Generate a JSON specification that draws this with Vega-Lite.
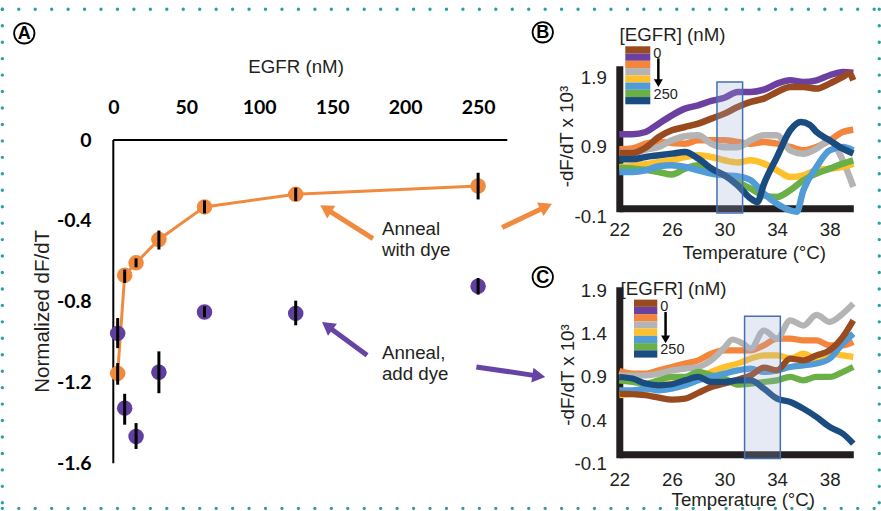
{
"$schema": "https://vega.github.io/schema/vega-lite/v6.json",
"background": "white",
"padding": {"left": 0.3, "top": 7.3, "right": 0, "bottom": 0},
"autosize": {"type": "pad"},
"config": {"view": {"stroke": null}, "font": "Liberation Sans", "axis": {"grid": false}},
"spacing": 112,
"bounds": "flush",
"resolve": {"scale": {"color": "independent", "stroke": "independent", "fill": "independent"}},
"datasets": {
"frame": [{"x":-76.06,"y":0.647,"x2":524.9,"y2":0.647},{"x":-76.06,"y":-1.823,"x2":524.9,"y2":-1.823},{"x":-76.06,"y":0.647,"x2":-76.06,"y2":-1.823},{"x":524.9,"y":0.647,"x2":524.9,"y2":-1.823}],
"pts": [
{"s":"dye","e":3.0,"m":-1.155,"lo":-1.211,"hi":-1.104},
{"s":"dye","e":7.8,"m":-0.669,"lo":-0.707,"hi":-0.641},
{"s":"dye","e":15.6,"m":-0.608,"lo":-0.63,"hi":-0.586},
{"s":"dye","e":31.25,"m":-0.492,"lo":-0.542,"hi":-0.448},
{"s":"dye","e":62.5,"m":-0.331,"lo":-0.363,"hi":-0.299},
{"s":"dye","e":125,"m":-0.269,"lo":-0.302,"hi":-0.236},
{"s":"dye","e":250,"m":-0.228,"lo":-0.294,"hi":-0.162},
{"s":"add","e":3.0,"m":-0.957,"lo":-1.03,"hi":-0.881},
{"s":"add","e":7.8,"m":-1.327,"lo":-1.409,"hi":-1.256},
{"s":"add","e":15.6,"m":-1.467,"lo":-1.529,"hi":-1.401},
{"s":"add","e":31.25,"m":-1.149,"lo":-1.253,"hi":-1.046},
{"s":"add","e":62.5,"m":-0.851,"lo":-0.877,"hi":-0.823},
{"s":"add","e":125,"m":-0.858,"lo":-0.917,"hi":-0.795},
{"s":"add","e":250,"m":-0.724,"lo":-0.765,"hi":-0.683}],
"arrows": [
{"g":"o","x":178.0,"y":-0.488,"x2":147.7,"y2":-0.350,"hx":145.6,"hy":-0.340,"a":302.3},
{"g":"o","x":266.4,"y":-0.433,"x2":294.5,"y2":-0.336,"hx":296.6,"hy":-0.329,"a":64.4},
{"g":"p","x":173.9,"y":-1.065,"x2":148.5,"y2":-0.930,"hx":146.6,"hy":-0.920,"a":306.5},
{"g":"p","x":248.8,"y":-1.123,"x2":289.3,"y2":-1.166,"hx":291.6,"hy":-1.168,"a":98.2}],
"notes": [{"x":184.1,"y":-0.472,"t":"Anneal\nwith dye"},{"x":184.1,"y":-1.082,"t":"Anneal,\nadd dye"}],
"panels": [{"x":-61.0,"y":0.528,"t":"A"},{"x":294.3,"y":0.533,"t":"B"},{"x":294.3,"y":-0.678,"t":"C"}],
"Bbox": [{"t1":29.43,"t2":31.38,"v1":1.717,"v2":-0.168}],
"Cbox": [{"t1":31.53,"t2":34.25,"v1":1.583,"v2":-0.152}],
"legB": [{"c":"0","y1":2.2309,"y2":2.1266},{"c":"3.9","y1":2.1266,"y2":2.0223},{"c":"7.8","y1":2.0223,"y2":1.918},{"c":"15.6","y1":1.918,"y2":1.8137},{"c":"31.3","y1":1.8137,"y2":1.7094},{"c":"62.5","y1":1.7094,"y2":1.605},{"c":"125","y1":1.605,"y2":1.5007},{"c":"250","y1":1.5007,"y2":1.3964}],
"legC": [{"c":"0","y1":1.7866,"y2":1.6982},{"c":"3.9","y1":1.6982,"y2":1.6098},{"c":"7.8","y1":1.6098,"y2":1.5213},{"c":"15.6","y1":1.5213,"y2":1.4329},{"c":"31.3","y1":1.4329,"y2":1.3445},{"c":"62.5","y1":1.3445,"y2":1.2561},{"c":"125","y1":1.2561,"y2":1.1677},{"c":"250","y1":1.1677,"y2":1.0793}],
"legTB": [{"x":22.02,"y":2.305,"t":"[EGFR] (nM)","k":"title"},{"x":24.586,"y":2.066,"t":"0","k":"lab"},{"x":24.609,"y":1.468,"t":"250","k":"lab"}],
"legTC": [{"x":22.099,"y":1.845,"t":"[EGFR] (nM)","k":"title"},{"x":25.12,"y":1.648,"t":"0","k":"lab"},{"x":25.12,"y":1.12,"t":"250","k":"lab"}],
"B": [
{"c":"3.9","t":22,"v":0.965},{"c":"3.9","t":23,"v":0.965},{"c":"3.9","t":24,"v":0.998},{"c":"3.9","t":25,"v":1.118},{"c":"3.9","t":26,"v":1.238},{"c":"3.9","t":27,"v":1.334},{"c":"3.9","t":28,"v":1.382},{"c":"3.9","t":29,"v":1.444},{"c":"3.9","t":30,"v":1.49},{"c":"3.9","t":31,"v":1.574},{"c":"3.9","t":32,"v":1.574},{"c":"3.9","t":33,"v":1.607},{"c":"3.9","t":34,"v":1.694},{"c":"3.9","t":35,"v":1.742},{"c":"3.9","t":36,"v":1.718},{"c":"3.9","t":37,"v":1.742},{"c":"3.9","t":38,"v":1.814},{"c":"3.9","t":39,"v":1.862},{"c":"3.9","t":39.8,"v":1.85},
{"c":"7.8","t":22,"v":0.75},{"c":"7.8","t":23,"v":0.76},{"c":"7.8","t":24,"v":0.83},{"c":"7.8","t":25,"v":0.854},{"c":"7.8","t":26,"v":0.84},{"c":"7.8","t":27,"v":0.83},{"c":"7.8","t":28,"v":0.878},{"c":"7.8","t":29,"v":0.878},{"c":"7.8","t":30,"v":0.878},{"c":"7.8","t":31,"v":0.854},{"c":"7.8","t":32,"v":0.83},{"c":"7.8","t":33,"v":0.854},{"c":"7.8","t":34,"v":0.83},{"c":"7.8","t":35,"v":0.782},{"c":"7.8","t":36,"v":0.734},{"c":"7.8","t":37,"v":0.782},{"c":"7.8","t":38,"v":0.878},{"c":"7.8","t":39,"v":0.998},{"c":"7.8","t":39.8,"v":1.03},
{"c":"15.6","t":22,"v":0.70},{"c":"15.6","t":23,"v":0.70},{"c":"15.6","t":24,"v":0.744},{"c":"15.6","t":25,"v":0.782},{"c":"15.6","t":26,"v":0.878},{"c":"15.6","t":27,"v":0.936},{"c":"15.6","t":28,"v":0.95},{"c":"15.6","t":29,"v":0.83},{"c":"15.6","t":30,"v":0.78},{"c":"15.6","t":31,"v":0.78},{"c":"15.6","t":32,"v":0.878},{"c":"15.6","t":33,"v":0.95},{"c":"15.6","t":34,"v":0.95},{"c":"15.6","t":35,"v":0.734},{"c":"15.6","t":36,"v":0.686},{"c":"15.6","t":37,"v":0.758},{"c":"15.6","t":38,"v":0.878},{"c":"15.6","t":39,"v":0.59},{"c":"15.6","t":39.8,"v":0.207},
{"c":"31.3","t":22,"v":0.495},{"c":"31.3","t":23,"v":0.51},{"c":"31.3","t":24,"v":0.533},{"c":"31.3","t":25,"v":0.567},{"c":"31.3","t":26,"v":0.591},{"c":"31.3","t":27,"v":0.639},{"c":"31.3","t":28,"v":0.663},{"c":"31.3","t":29,"v":0.639},{"c":"31.3","t":30,"v":0.591},{"c":"31.3","t":31,"v":0.56},{"c":"31.3","t":32,"v":0.591},{"c":"31.3","t":33,"v":0.543},{"c":"31.3","t":34,"v":0.447},{"c":"31.3","t":35,"v":0.351},{"c":"31.3","t":36,"v":0.375},{"c":"31.3","t":37,"v":0.447},{"c":"31.3","t":38,"v":0.471},{"c":"31.3","t":39,"v":0.495},{"c":"31.3","t":39.8,"v":0.543},
{"c":"125","t":22,"v":0.485},{"c":"125","t":23,"v":0.471},{"c":"125","t":24,"v":0.456},{"c":"125","t":25,"v":0.423},{"c":"125","t":26,"v":0.385},{"c":"125","t":27,"v":0.471},{"c":"125","t":28,"v":0.519},{"c":"125","t":29,"v":0.447},{"c":"125","t":30,"v":0.375},{"c":"125","t":31,"v":0.279},{"c":"125","t":32,"v":0.183},{"c":"125","t":33,"v":0.087},{"c":"125","t":34,"v":0.063},{"c":"125","t":35,"v":0.159},{"c":"125","t":36,"v":0.303},{"c":"125","t":37,"v":0.399},{"c":"125","t":38,"v":0.471},{"c":"125","t":39,"v":0.543},{"c":"125","t":39.8,"v":0.591},
{"c":"62.5","t":22,"v":0.423},{"c":"62.5","t":23,"v":0.423},{"c":"62.5","t":24,"v":0.447},{"c":"62.5","t":25,"v":0.504},{"c":"62.5","t":26,"v":0.519},{"c":"62.5","t":27,"v":0.495},{"c":"62.5","t":28,"v":0.447},{"c":"62.5","t":29,"v":0.399},{"c":"62.5","t":30,"v":0.375},{"c":"62.5","t":31,"v":0.36},{"c":"62.5","t":32,"v":0.303},{"c":"62.5","t":33,"v":0.111},{"c":"62.5","t":34,"v":-0.033},{"c":"62.5","t":35,"v":-0.129},{"c":"62.5","t":35.5,"v":-0.15},{"c":"62.5","t":36,"v":0.159},{"c":"62.5","t":37,"v":0.495},{"c":"62.5","t":38,"v":0.734},{"c":"62.5","t":39,"v":0.782},{"c":"62.5","t":39.8,"v":0.734},
{"c":"0","t":22,"v":0.696},{"c":"0","t":23,"v":0.696},{"c":"0","t":24,"v":0.773},{"c":"0","t":25,"v":0.926},{"c":"0","t":26,"v":1.022},{"c":"0","t":27,"v":1.07},{"c":"0","t":28,"v":1.118},{"c":"0","t":29,"v":1.19},{"c":"0","t":30,"v":1.262},{"c":"0","t":31,"v":1.358},{"c":"0","t":32,"v":1.43},{"c":"0","t":33,"v":1.478},{"c":"0","t":34,"v":1.574},{"c":"0","t":35,"v":1.646},{"c":"0","t":36,"v":1.646},{"c":"0","t":37,"v":1.622},{"c":"0","t":38,"v":1.694},{"c":"0","t":39,"v":1.79},{"c":"0","t":39.5,"v":1.838},{"c":"0","t":39.8,"v":1.742},
{"c":"250","t":22,"v":0.605},{"c":"250","t":23,"v":0.605},{"c":"250","t":24,"v":0.639},{"c":"250","t":25,"v":0.663},{"c":"250","t":26,"v":0.687},{"c":"250","t":27,"v":0.711},{"c":"250","t":28,"v":0.615},{"c":"250","t":29,"v":0.471},{"c":"250","t":30,"v":0.375},{"c":"250","t":31,"v":0.231},{"c":"250","t":32,"v":0.039},{"c":"250","t":32.5,"v":-0.01},{"c":"250","t":33,"v":0.25},{"c":"250","t":34,"v":0.64},{"c":"250","t":35,"v":1.022},{"c":"250","t":35.8,"v":1.142},{"c":"250","t":36.5,"v":1.1},{"c":"250","t":37,"v":0.998},{"c":"250","t":38,"v":0.878},{"c":"250","t":39,"v":0.758},{"c":"250","t":39.8,"v":0.687}],
"C": [
{"c":"7.8","t":22,"v":0.916},{"c":"7.8","t":23,"v":0.884},{"c":"7.8","t":24,"v":0.884},{"c":"7.8","t":25,"v":0.924},{"c":"7.8","t":26,"v":0.965},{"c":"7.8","t":27,"v":1.006},{"c":"7.8","t":28,"v":1.046},{"c":"7.8","t":29,"v":1.128},{"c":"7.8","t":30,"v":1.168},{"c":"7.8","t":31,"v":1.168},{"c":"7.8","t":32,"v":1.168},{"c":"7.8","t":33,"v":1.229},{"c":"7.8","t":34,"v":1.311},{"c":"7.8","t":35,"v":1.311},{"c":"7.8","t":36,"v":1.29},{"c":"7.8","t":37,"v":1.29},{"c":"7.8","t":38,"v":1.229},{"c":"7.8","t":39,"v":1.229},{"c":"7.8","t":39.8,"v":1.27},
{"c":"15.6","t":22,"v":0.86},{"c":"15.6","t":23,"v":0.86},{"c":"15.6","t":24,"v":0.863},{"c":"15.6","t":25,"v":0.884},{"c":"15.6","t":26,"v":0.924},{"c":"15.6","t":27,"v":0.945},{"c":"15.6","t":28,"v":0.965},{"c":"15.6","t":29,"v":1.046},{"c":"15.6","t":30,"v":1.2},{"c":"15.6","t":30.6,"v":1.3},{"c":"15.6","t":31.4,"v":1.25},{"c":"15.6","t":32,"v":1.19},{"c":"15.6","t":33,"v":1.41},{"c":"15.6","t":34,"v":1.31},{"c":"15.6","t":35,"v":1.534},{"c":"15.6","t":36,"v":1.47},{"c":"15.6","t":37,"v":1.6},{"c":"15.6","t":38,"v":1.514},{"c":"15.6","t":39,"v":1.615},{"c":"15.6","t":39.8,"v":1.737},
{"c":"31.3","t":22,"v":0.62},{"c":"31.3","t":23,"v":0.64},{"c":"31.3","t":24,"v":0.68},{"c":"31.3","t":25,"v":0.741},{"c":"31.3","t":26,"v":0.762},{"c":"31.3","t":27,"v":0.802},{"c":"31.3","t":28,"v":0.843},{"c":"31.3","t":29,"v":0.904},{"c":"31.3","t":30,"v":0.965},{"c":"31.3","t":31,"v":1.006},{"c":"31.3","t":32,"v":1.067},{"c":"31.3","t":33,"v":1.107},{"c":"31.3","t":34,"v":1.107},{"c":"31.3","t":35,"v":1.067},{"c":"31.3","t":36,"v":1.128},{"c":"31.3","t":37,"v":1.067},{"c":"31.3","t":38,"v":1.128},{"c":"31.3","t":39,"v":1.107},{"c":"31.3","t":39.8,"v":1.087},
{"c":"125","t":22,"v":0.802},{"c":"125","t":23,"v":0.782},{"c":"125","t":24,"v":0.762},{"c":"125","t":25,"v":0.802},{"c":"125","t":26,"v":0.843},{"c":"125","t":27,"v":0.843},{"c":"125","t":28,"v":0.904},{"c":"125","t":29,"v":0.863},{"c":"125","t":30,"v":0.823},{"c":"125","t":31,"v":0.75},{"c":"125","t":32,"v":0.762},{"c":"125","t":33,"v":0.782},{"c":"125","t":34,"v":0.802},{"c":"125","t":35,"v":0.843},{"c":"125","t":36,"v":0.802},{"c":"125","t":37,"v":0.843},{"c":"125","t":38,"v":0.843},{"c":"125","t":39,"v":0.904},{"c":"125","t":39.8,"v":0.965},
{"c":"62.5","t":22,"v":0.68},{"c":"62.5","t":23,"v":0.68},{"c":"62.5","t":24,"v":0.701},{"c":"62.5","t":25,"v":0.68},{"c":"62.5","t":26,"v":0.701},{"c":"62.5","t":27,"v":0.741},{"c":"62.5","t":28,"v":0.802},{"c":"62.5","t":29,"v":0.843},{"c":"62.5","t":30,"v":0.884},{"c":"62.5","t":31,"v":0.924},{"c":"62.5","t":32,"v":0.945},{"c":"62.5","t":33,"v":0.904},{"c":"62.5","t":34,"v":0.924},{"c":"62.5","t":35,"v":0.965},{"c":"62.5","t":36,"v":0.985},{"c":"62.5","t":37,"v":1.006},{"c":"62.5","t":38,"v":1.067},{"c":"62.5","t":39,"v":1.25},{"c":"62.5","t":39.8,"v":1.372},
{"c":"0","t":22,"v":0.64},{"c":"0","t":23,"v":0.632},{"c":"0","t":24,"v":0.62},{"c":"0","t":25,"v":0.591},{"c":"0","t":26,"v":0.567},{"c":"0","t":27,"v":0.579},{"c":"0","t":28,"v":0.648},{"c":"0","t":29,"v":0.721},{"c":"0","t":30,"v":0.762},{"c":"0","t":31,"v":0.81},{"c":"0","t":32,"v":0.863},{"c":"0","t":33,"v":0.957},{"c":"0","t":34,"v":0.924},{"c":"0","t":35,"v":1.067},{"c":"0","t":36,"v":1.046},{"c":"0","t":37,"v":1.107},{"c":"0","t":38,"v":1.168},{"c":"0","t":39,"v":1.331},{"c":"0","t":39.8,"v":1.534},
{"c":"250","t":22,"v":0.843},{"c":"250","t":23,"v":0.823},{"c":"250","t":24,"v":0.762},{"c":"250","t":25,"v":0.741},{"c":"250","t":26,"v":0.754},{"c":"250","t":27,"v":0.802},{"c":"250","t":28,"v":0.843},{"c":"250","t":29,"v":0.782},{"c":"250","t":30,"v":0.782},{"c":"250","t":31,"v":0.802},{"c":"250","t":32,"v":0.802},{"c":"250","t":33,"v":0.701},{"c":"250","t":34,"v":0.579},{"c":"250","t":35,"v":0.538},{"c":"250","t":36,"v":0.457},{"c":"250","t":37,"v":0.355},{"c":"250","t":38,"v":0.233},{"c":"250","t":39,"v":0.152},{"c":"250","t":39.8,"v":0.03}]
},
"hconcat": [
{
"width": 394, "height": 394,
"layer": [
{"data": {"name": "frame"}, "mark": {"type": "rule", "color": "#2e9fa1", "strokeWidth": 3.4, "strokeDash": [0, 16.45], "strokeCap": "round"},
 "encoding": {"x": {"field": "x", "type": "quantitative", "scale": {"domain": [0, 270], "nice": false, "zero": false}}, "y": {"field": "y", "type": "quantitative", "scale": {"domain": [-1.6, 0.35], "nice": false, "zero": false}}, "x2": {"field": "x2"}, "y2": {"field": "y2"}}},
{"data": {"values": [{}]}, "mark": {"type": "rule", "color": "#000000", "strokeWidth": 2},
 "encoding": {
  "x": {"datum": 0, "type": "quantitative", "scale": {"domain": [0, 270], "nice": false, "zero": false},
   "axis": {"orient": "top", "offset": -70.5, "values": [0, 50, 100, 150, 200, 250], "labelFont": "Lato", "labelFontWeight": "bold", "labelFontSize": 19.5, "labelColor": "#000000", "labelBaseline": "alphabetic", "labelPadding": 26, "labelFlush": false, "labelOverlap": false, "ticks": false, "tickSize": 0, "domain": false, "title": "EGFR (nM)", "titleFontSize": 18.7, "titleFontWeight": "normal", "titleColor": "#231f20", "titleX": 182.3, "titleY": -67.5, "titleAlign": "center", "titleBaseline": "alphabetic"}},
  "y": {"datum": 0, "type": "quantitative", "scale": {"domain": [-1.6, 0.35], "nice": false, "zero": false},
   "axis": {"orient": "left", "values": [0, -0.4, -0.8, -1.2, -1.6], "labelExpr": "datum.value == 0 ? '0' : '-' + format(abs(datum.value), '.1f')", "labelFont": "Lato", "labelFontWeight": "bold", "labelFontSize": 19.5, "labelColor": "#000000", "labelPadding": 22.3, "labelFlush": false, "labelOverlap": false, "ticks": false, "tickSize": 0, "domain": false, "title": "Normalized dF/dT", "titleFontSize": 20.5, "titleFontWeight": "normal", "titleColor": "#231f20", "titleAngle": 270, "titleX": -65, "titleY": 241.5, "titleAlign": "center", "titleBaseline": "alphabetic"}},
  "y2": {"datum": -1.6}}},
{"data": {"values": [{}]}, "mark": {"type": "rule", "color": "#000000", "strokeWidth": 2},
 "encoding": {"x": {"datum": 0, "type": "quantitative", "scale": {"domain": [0, 270], "nice": false, "zero": false}}, "x2": {"datum": 270}, "y": {"datum": 0, "type": "quantitative", "scale": {"domain": [-1.6, 0.35], "nice": false, "zero": false}}}},
{"data": {"name": "pts"}, "transform": [{"filter": "datum.s == 'dye'"}], "mark": {"type": "line", "color": "#f08a3e", "strokeWidth": 3},
 "encoding": {"x": {"field": "e", "type": "quantitative", "scale": {"domain": [0, 270], "nice": false, "zero": false}}, "y": {"field": "m", "type": "quantitative", "scale": {"domain": [-1.6, 0.35], "nice": false, "zero": false}}}},
{"data": {"name": "pts"}, "transform": [{"filter": "datum.s == 'dye'"}], "mark": {"type": "circle", "color": "#f08a3e", "opacity": 1, "size": 240},
 "encoding": {"x": {"field": "e", "type": "quantitative", "scale": {"domain": [0, 270], "nice": false, "zero": false}}, "y": {"field": "m", "type": "quantitative", "scale": {"domain": [-1.6, 0.35], "nice": false, "zero": false}}}},
{"data": {"name": "pts"}, "transform": [{"filter": "datum.s == 'add'"}], "mark": {"type": "circle", "color": "#603f9e", "opacity": 1, "size": 240},
 "encoding": {"x": {"field": "e", "type": "quantitative", "scale": {"domain": [0, 270], "nice": false, "zero": false}}, "y": {"field": "m", "type": "quantitative", "scale": {"domain": [-1.6, 0.35], "nice": false, "zero": false}}}},
{"data": {"name": "pts"}, "mark": {"type": "rule", "color": "#000000", "strokeWidth": 3},
 "encoding": {"x": {"field": "e", "type": "quantitative", "scale": {"domain": [0, 270], "nice": false, "zero": false}}, "y": {"field": "lo", "type": "quantitative", "scale": {"domain": [-1.6, 0.35], "nice": false, "zero": false}}, "y2": {"field": "hi"}}},
{"data": {"name": "arrows"}, "mark": {"type": "rule", "strokeWidth": 5},
 "encoding": {"x": {"field": "x", "type": "quantitative", "scale": {"domain": [0, 270], "nice": false, "zero": false}}, "y": {"field": "y", "type": "quantitative", "scale": {"domain": [-1.6, 0.35], "nice": false, "zero": false}}, "x2": {"field": "x2"}, "y2": {"field": "y2"},
  "stroke": {"field": "g", "type": "nominal", "scale": {"domain": ["o", "p"], "range": ["#f08a3e", "#6643a5"]}, "legend": null}}},
{"data": {"name": "arrows"}, "mark": {"type": "point", "shape": "triangle-up", "filled": true, "opacity": 1, "size": 225},
 "encoding": {"x": {"field": "hx", "type": "quantitative", "scale": {"domain": [0, 270], "nice": false, "zero": false}}, "y": {"field": "hy", "type": "quantitative", "scale": {"domain": [-1.6, 0.35], "nice": false, "zero": false}},
  "angle": {"field": "a", "type": "quantitative", "scale": null},
  "fill": {"field": "g", "type": "nominal", "scale": {"domain": ["o", "p"], "range": ["#f08a3e", "#6643a5"]}, "legend": null}}},
{"data": {"name": "notes"}, "mark": {"type": "text", "align": "left", "baseline": "alphabetic", "fontSize": 18.7, "lineHeight": 21, "lineBreak": "\n", "color": "#231f20"},
 "encoding": {"x": {"field": "x", "type": "quantitative", "scale": {"domain": [0, 270], "nice": false, "zero": false}}, "y": {"field": "y", "type": "quantitative", "scale": {"domain": [-1.6, 0.35], "nice": false, "zero": false}}, "text": {"field": "t"}}},
{"data": {"name": "panels"}, "mark": {"type": "point", "shape": "circle", "filled": false, "stroke": "#000000", "strokeWidth": 1.8, "opacity": 1, "size": 415},
 "encoding": {"x": {"field": "x", "type": "quantitative", "scale": {"domain": [0, 270], "nice": false, "zero": false}}, "y": {"field": "y", "type": "quantitative", "scale": {"domain": [-1.6, 0.35], "nice": false, "zero": false}}}},
{"data": {"name": "panels"}, "mark": {"type": "text", "align": "center", "baseline": "middle", "fontSize": 18, "fontWeight": "bold", "dy": 1, "color": "#000000"},
 "encoding": {"x": {"field": "x", "type": "quantitative", "scale": {"domain": [0, 270], "nice": false, "zero": false}}, "y": {"field": "y", "type": "quantitative", "scale": {"domain": [-1.6, 0.35], "nice": false, "zero": false}}, "text": {"field": "t"}}}
]
},
{
"vconcat": [
{
"width": 234, "height": 139,
"layer": [
{"data": {"name": "B"}, "mark": {"type": "line", "strokeWidth": 6.5, "interpolate": "monotone", "strokeJoin": "round"},
 "encoding": {
  "x": {"field": "t", "type": "quantitative", "scale": {"domain": [22, 39.8], "nice": false, "zero": false},
   "axis": {"values": [22, 26, 30, 34, 38], "labelFontSize": 18.7, "labelColor": "#231f20", "labelPadding": 12, "labelFlush": false, "labelOverlap": false, "ticks": false, "tickSize": 0, "domain": true, "domainWidth": 7, "domainColor": "#231f20", "domainCap": "butt", "title": "Temperature (°C)", "titleFontSize": 18.7, "titleFontWeight": "normal", "titleColor": "#231f20", "titleX": 134.5, "titleY": 50.5, "titleAlign": "center", "titleBaseline": "alphabetic"}},
  "y": {"field": "v", "type": "quantitative", "scale": {"domain": [-0.1, 1.9], "nice": false, "zero": false},
   "axis": {"values": [-0.1, 0.9, 1.9], "labelExpr": "datum.value < 0 ? '-' + format(abs(datum.value), '.1f') : format(datum.value, '.1f')", "labelFontSize": 18.7, "labelColor": "#231f20", "labelPadding": 13, "labelOffset": 8, "labelFlush": false, "labelOverlap": false, "ticks": false, "tickSize": 0, "domain": true, "domainWidth": 7, "domainColor": "#231f20", "domainCap": "square", "title": "-dF/dT x 10³", "titleFontSize": 18.7, "titleFontWeight": "normal", "titleColor": "#231f20", "titleAngle": 270, "titleX": -47, "titleY": 66.8, "titleAlign": "center", "titleBaseline": "alphabetic"}},
  "color": {"field": "c", "type": "nominal", "scale": {"domain": ["0", "3.9", "7.8", "15.6", "31.3", "62.5", "125", "250"], "range": ["#994a1f", "#6b40a0", "#f4853c", "#b4b4b5", "#fec02d", "#519bd7", "#6ab047", "#1a4c80"]}, "legend": null}}},
{"data": {"name": "Bbox"}, "mark": {"type": "rect", "fill": "#9aaad6", "fillOpacity": 0.25, "stroke": "#4470b0", "strokeWidth": 1.5},
 "encoding": {"x": {"field": "t1", "type": "quantitative", "scale": {"domain": [22, 39.8], "nice": false, "zero": false}}, "x2": {"field": "t2"}, "y": {"field": "v1", "type": "quantitative", "scale": {"domain": [-0.1, 1.9], "nice": false, "zero": false}}, "y2": {"field": "v2"}}},
{"data": {"name": "legB"}, "mark": {"type": "rect", "opacity": 1},
 "encoding": {"x": {"datum": 22.456, "type": "quantitative", "scale": {"domain": [22, 39.8], "nice": false, "zero": false}}, "x2": {"datum": 24.358}, "y": {"field": "y1", "type": "quantitative", "scale": {"domain": [-0.1, 1.9], "nice": false, "zero": false}}, "y2": {"field": "y2"},
  "color": {"field": "c", "type": "nominal", "scale": {"domain": ["0", "3.9", "7.8", "15.6", "31.3", "62.5", "125", "250"], "range": ["#994a1f", "#6b40a0", "#f4853c", "#b4b4b5", "#fec02d", "#519bd7", "#6ab047", "#1a4c80"]}, "legend": null}}},
{"data": {"name": "legTB"}, "mark": {"type": "text", "align": "left", "baseline": "alphabetic", "color": "#231f20"},
 "encoding": {"x": {"field": "x", "type": "quantitative", "scale": {"domain": [22, 39.8], "nice": false, "zero": false}}, "y": {"field": "y", "type": "quantitative", "scale": {"domain": [-0.1, 1.9], "nice": false, "zero": false}}, "text": {"field": "t"},
  "size": {"field": "k", "type": "nominal", "scale": {"domain": ["title", "lab"], "range": [18.7, 14.5]}, "legend": null}}},
{"data": {"values": [{}]}, "mark": {"type": "rule", "color": "#000000", "strokeWidth": 2.5},
 "encoding": {"x": {"datum": 24.97, "type": "quantitative", "scale": {"domain": [22, 39.8], "nice": false, "zero": false}}, "y": {"datum": 2.058, "type": "quantitative", "scale": {"domain": [-0.1, 1.9], "nice": false, "zero": false}}, "y2": {"datum": 1.742}}},
{"data": {"values": [{}]}, "mark": {"type": "point", "shape": "triangle-down", "filled": true, "color": "#000000", "opacity": 1, "size": 81},
 "encoding": {"x": {"datum": 24.97, "type": "quantitative", "scale": {"domain": [22, 39.8], "nice": false, "zero": false}}, "y": {"datum": 1.701, "type": "quantitative", "scale": {"domain": [-0.1, 1.9], "nice": false, "zero": false}}}}
],
"resolve": {"scale": {"size": "independent"}}
},
{
"width": 234, "height": 164,
"layer": [
{"data": {"name": "C"}, "mark": {"type": "line", "strokeWidth": 6.2, "interpolate": "monotone", "strokeJoin": "round"},
 "encoding": {
  "x": {"field": "t", "type": "quantitative", "scale": {"domain": [22, 39.8], "nice": false, "zero": false},
   "axis": {"values": [22, 26, 30, 34, 38], "labelFontSize": 18.7, "labelColor": "#231f20", "labelPadding": 16, "labelFlush": false, "labelOverlap": false, "ticks": false, "tickSize": 0, "domain": true, "domainWidth": 7, "domainColor": "#231f20", "domainCap": "butt", "title": "Temperature (°C)", "titleFontSize": 18.7, "titleFontWeight": "normal", "titleColor": "#231f20", "titleX": 123.5, "titleY": 51, "titleAlign": "center", "titleBaseline": "alphabetic"}},
  "y": {"field": "v", "type": "quantitative", "scale": {"domain": [-0.1, 1.9], "nice": false, "zero": false},
   "axis": {"values": [-0.1, 0.4, 0.9, 1.4, 1.9], "labelExpr": "datum.value < 0 ? '-' + format(abs(datum.value), '.1f') : format(datum.value, '.1f')", "labelFontSize": 18.7, "labelColor": "#231f20", "labelPadding": 13, "labelOffset": {"condition": [{"test": "datum.value < 0", "value": 9}, {"test": "datum.value < 0.5", "value": 7}, {"test": "datum.value < 1", "value": 4.6}, {"test": "datum.value < 1.5", "value": 2.3}], "value": 0}, "labelFlush": false, "labelOverlap": false, "ticks": false, "tickSize": 0, "domain": true, "domainWidth": 7, "domainColor": "#231f20", "domainCap": "square", "title": "-dF/dT x 10³", "titleFontSize": 18.7, "titleFontWeight": "normal", "titleColor": "#231f20", "titleAngle": 270, "titleX": -46, "titleY": 84.2, "titleAlign": "center", "titleBaseline": "alphabetic"}},
  "color": {"field": "c", "type": "nominal", "scale": {"domain": ["0", "3.9", "7.8", "15.6", "31.3", "62.5", "125", "250"], "range": ["#994a1f", "#6b40a0", "#f4853c", "#b4b4b5", "#fec02d", "#519bd7", "#6ab047", "#1a4c80"]}, "legend": null}}},
{"data": {"name": "Cbox"}, "mark": {"type": "rect", "fill": "#9aaad6", "fillOpacity": 0.25, "stroke": "#4470b0", "strokeWidth": 1.5},
 "encoding": {"x": {"field": "t1", "type": "quantitative", "scale": {"domain": [22, 39.8], "nice": false, "zero": false}}, "x2": {"field": "t2"}, "y": {"field": "v1", "type": "quantitative", "scale": {"domain": [-0.1, 1.9], "nice": false, "zero": false}}, "y2": {"field": "v2"}}},
{"data": {"name": "legC"}, "mark": {"type": "rect", "opacity": 1},
 "encoding": {"x": {"datum": 23.118, "type": "quantitative", "scale": {"domain": [22, 39.8], "nice": false, "zero": false}}, "x2": {"datum": 24.891}, "y": {"field": "y1", "type": "quantitative", "scale": {"domain": [-0.1, 1.9], "nice": false, "zero": false}}, "y2": {"field": "y2"},
  "color": {"field": "c", "type": "nominal", "scale": {"domain": ["0", "3.9", "7.8", "15.6", "31.3", "62.5", "125", "250"], "range": ["#994a1f", "#6b40a0", "#f4853c", "#b4b4b5", "#fec02d", "#519bd7", "#6ab047", "#1a4c80"]}, "legend": null}}},
{"data": {"name": "legTC"}, "mark": {"type": "text", "align": "left", "baseline": "alphabetic", "color": "#231f20"},
 "encoding": {"x": {"field": "x", "type": "quantitative", "scale": {"domain": [22, 39.8], "nice": false, "zero": false}}, "y": {"field": "y", "type": "quantitative", "scale": {"domain": [-0.1, 1.9], "nice": false, "zero": false}}, "text": {"field": "t"},
  "size": {"field": "k", "type": "nominal", "scale": {"domain": ["title", "lab"], "range": [18.7, 14.5]}, "legend": null}}},
{"data": {"values": [{}]}, "mark": {"type": "rule", "color": "#000000", "strokeWidth": 2.5},
 "encoding": {"x": {"datum": 25.52, "type": "quantitative", "scale": {"domain": [22, 39.8], "nice": false, "zero": false}}, "y": {"datum": 1.635, "type": "quantitative", "scale": {"domain": [-0.1, 1.9], "nice": false, "zero": false}}, "y2": {"datum": 1.339}}},
{"data": {"values": [{}]}, "mark": {"type": "point", "shape": "triangle-down", "filled": true, "color": "#000000", "opacity": 1, "size": 81},
 "encoding": {"x": {"datum": 25.52, "type": "quantitative", "scale": {"domain": [22, 39.8], "nice": false, "zero": false}}, "y": {"datum": 1.301, "type": "quantitative", "scale": {"domain": [-0.1, 1.9], "nice": false, "zero": false}}}}
],
"resolve": {"scale": {"size": "independent"}}
}
],
"spacing": 82,
"bounds": "flush",
"resolve": {"scale": {"color": "independent", "size": "independent"}}
}
]
}
